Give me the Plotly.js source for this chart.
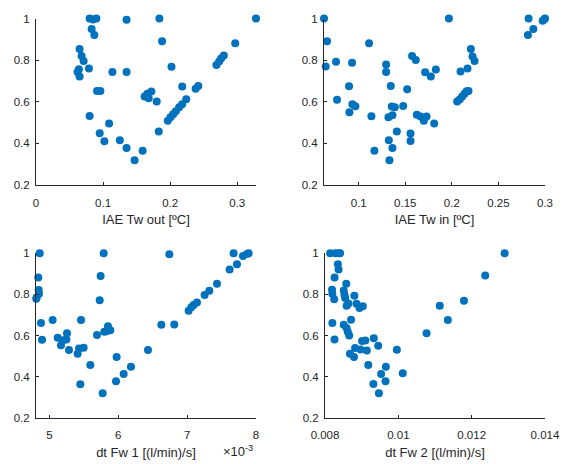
<!DOCTYPE html>
<html>
<head>
<meta charset="utf-8">
<script src="https://cdn.plot.ly/plotly-3.0.1.min.js"></script>
<style>html,body{margin:0;padding:0;background:#fff;}#plot{width:563px;height:464px;}</style>
</head>
<body>
<div id="plot"></div>
<script>
// IAE Tw out [ºC] vs. score
const twOutX = [0.080,0.085,0.090,0.135,0.184,0.328,0.083,0.087,0.188,0.297,0.065,0.068,0.071,0.064,0.062,0.065,0.079,0.114,0.135,0.202,
  0.269,0.273,0.276,0.280,0.091,0.096,0.218,0.238,0.242,0.162,0.166,0.168,0.172,0.180,
  0.1965,0.2005,0.2045,0.2085,0.2134,0.218,0.224,0.080,0.109,0.095,0.102,0.125,0.135,0.159,0.147,0.183];
const twOutY = [1.0,0.995,1.0,0.994,1.0,1.0,0.949,0.921,0.891,0.881,0.853,0.820,0.796,0.756,0.743,0.721,0.760,0.743,0.743,0.768,
  0.777,0.793,0.808,0.822,0.652,0.652,0.673,0.663,0.676,0.625,0.638,0.617,0.649,0.601,
  0.509,0.525,0.540,0.554,0.574,0.588,0.612,0.532,0.495,0.449,0.410,0.415,0.378,0.364,0.319,0.457];

// IAE Tw in [ºC] vs. score
const twInX = [0.0627,0.066,0.0645,0.0756,0.0767,0.0928,0.0896,0.0932,0.0964,0.0900,0.1111,0.1136,0.1168,0.1294,0.1294,0.1344,0.1355,0.1387,
  0.1362,0.1319,0.1409,0.1323,0.1362,0.1330,0.1477,0.1520,0.1573,0.1613,0.1556,0.1556,0.1624,0.1663,0.1699,0.1728,0.1810,0.1713,0.1774,0.1828,
  0.1968,0.2093,0.2168,0.2057,0.2086,0.2111,0.2136,0.2158,0.2179,0.2204,0.2222,0.2244,0.2824,0.2817,0.2875,0.2975,0.2993,0.3000];
const twInY = [1.0,0.891,0.769,0.792,0.610,0.788,0.675,0.588,0.578,0.550,0.881,0.530,0.364,0.779,0.743,0.676,0.577,0.574,
  0.535,0.525,0.457,0.415,0.378,0.319,0.580,0.660,0.820,0.801,0.448,0.412,0.537,0.529,0.509,0.529,0.495,0.742,0.721,0.755,
  1.0,0.745,0.760,0.601,0.612,0.625,0.638,0.650,0.652,0.853,0.817,0.796,1.0,0.921,0.949,0.989,0.997,1.0];

// dt Fw 1 [(l/min)/s] (×10^-3) vs. score
const fw1X = [4.860,5.789,6.742,7.675,7.811,7.869,7.893,7.724,7.617,4.840,5.745,7.434,7.322,7.254,4.845,4.850,4.815,4.810,5.731,
  7.143,7.095,7.061,7.022,4.879,5.048,5.460,6.626,6.814,5.851,5.885,5.827,5.798,5.692,4.894,5.121,5.198,5.247,5.256,5.169,5.285,
  5.431,5.498,5.411,6.432,5.977,5.595,6.185,6.079,5.968,5.450,5.774];
const fw1Y = [1.0,1.0,0.995,1.0,0.987,0.997,1.0,0.947,0.921,0.882,0.890,0.852,0.818,0.797,0.821,0.803,0.785,0.779,0.771,
  0.760,0.748,0.737,0.721,0.661,0.676,0.676,0.652,0.653,0.645,0.626,0.621,0.618,0.602,0.579,0.589,0.577,0.581,0.611,0.553,0.529,
  0.537,0.540,0.511,0.529,0.495,0.456,0.448,0.413,0.377,0.363,0.319];

// dt Fw 2 [(l/min)/s] vs. score
const fw2X = [0.00814,0.00829,0.00837,0.00841,0.00835,0.00837,0.00826,0.00819,0.00820,0.00825,0.00858,0.00851,0.00853,0.00855,
  0.00859,0.00864,0.00880,0.00886,0.00894,0.00903,0.00820,0.00826,0.00851,0.00859,0.00862,0.00866,0.00871,0.00901,0.00910,
  0.00868,0.00879,0.00882,0.00897,0.00914,0.00933,0.00945,0.00918,0.00966,0.00953,0.00965,0.00932,0.00947,
  0.00996,0.01012,0.01077,0.01113,0.01135,0.01179,0.01237,0.01290];
const fw2Y = [1.0,1.0,1.0,1.0,0.947,0.921,0.882,0.823,0.803,0.777,0.852,0.819,0.798,0.782,
  0.745,0.756,0.794,0.755,0.734,0.742,0.661,0.581,0.652,0.637,0.618,0.600,0.677,0.573,0.576,
  0.511,0.495,0.539,0.532,0.527,0.587,0.550,0.456,0.448,0.413,0.377,0.364,0.319,
  0.531,0.416,0.611,0.745,0.676,0.769,0.892,1.0];

const xTitles = ['IAE Tw out [ºC]', 'IAE Tw in [ºC]', 'dt Fw 1 [(l/min)/s]', 'dt Fw 2 [(l/min)/s]'];

const marker = {color: '#0072BD', size: 8, line: {width: 0}};
const sets = [[twOutX, twOutY], [twInX, twInY], [fw1X, fw1Y], [fw2X, fw2Y]];
const traces = sets.map((s, i) => ({
  type: 'scatter', mode: 'markers', x: s[0], y: s[1],
  xaxis: i === 0 ? 'x' : 'x' + (i + 1), yaxis: i === 0 ? 'y' : 'y' + (i + 1),
  marker: marker, cliponaxis: false, showlegend: false, hoverinfo: 'skip'
}));

const FAM = 'Liberation Sans, Arial, sans-serif';
const tickFont = {family: FAM, size: 11.5, color: '#262626'};
const titleFont = {family: FAM, size: 13, color: '#262626'};
function xa(domain, range, dtick, tick0, title, anchor) {
  return {domain: domain, range: range, dtick: dtick, tick0: tick0, tickmode: 'linear',
    showgrid: false, zeroline: false, showline: true, linecolor: '#262626', linewidth: 1,
    ticks: 'inside', ticklen: 3, tickcolor: '#262626', tickfont: tickFont, anchor: anchor,
    ticklabelstandoff: 7,
    title: {text: title, font: titleFont, standoff: 7}, fixedrange: true};
}
function ya(domain, anchor) {
  return {domain: domain, range: [0.2, 1], dtick: 0.2, tick0: 0, tickmode: 'linear',
    showgrid: false, zeroline: false, showline: true, linecolor: '#262626', linewidth: 1,
    ticks: 'inside', ticklen: 3, tickcolor: '#262626', tickfont: tickFont, anchor: anchor,
    ticklabelstandoff: 3, fixedrange: true};
}

const topDom = [0.6013, 0.9601], botDom = [0.0998, 0.4541];
const layout = {
  width: 563, height: 464, margin: {l: 0, r: 0, t: 0, b: 0},
  paper_bgcolor: '#ffffff', plot_bgcolor: '#ffffff',
  xaxis: xa([0.0639, 0.4547], [0, 0.328], 0.1, 0, xTitles[0], 'y'),
  yaxis: ya(topDom, 'x'),
  xaxis2: xa([0.5755, 0.9680], [0.0627, 0.3], 0.05, 0, xTitles[1], 'y2'),
  yaxis2: ya(topDom, 'x2'),
  xaxis3: xa([0.0639, 0.4547], [4.806, 8.0], 1, 0, xTitles[2], 'y3'),
  yaxis3: ya(botDom, 'x3'),
  xaxis4: xa([0.5773, 0.9680], [0.008, 0.014], 0.002, 0, xTitles[3], 'y4'),
  yaxis4: ya(botDom, 'x4'),
  annotations: [{
    text: '×10<sup>-3</sup>', xref: 'paper', yref: 'paper',
    x: 238 / 563, y: 1 - 451 / 464, xanchor: 'center', yanchor: 'middle',
    showarrow: false, font: {family: FAM, size: 13, color: '#262626'}
  }]
};

Plotly.newPlot('plot', traces, layout, {displayModeBar: false, staticPlot: true});
</script>
</body>
</html>
